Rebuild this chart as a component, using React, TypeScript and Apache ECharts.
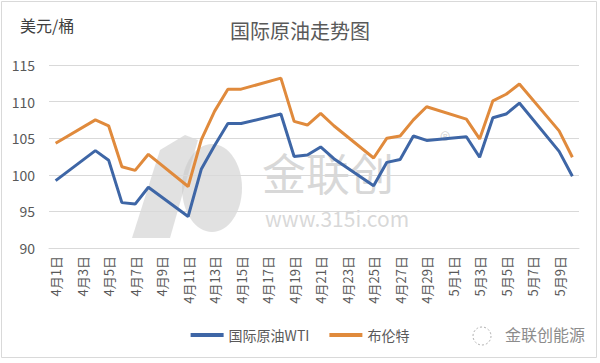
import React, { useEffect, useRef } from "react";
import * as echarts from "echarts";

const categories = [
  "4月1日","4月2日","4月3日","4月4日","4月5日","4月6日","4月7日","4月8日","4月9日","4月10日",
  "4月11日","4月12日","4月13日","4月14日","4月15日","4月16日","4月17日","4月18日","4月19日","4月20日",
  "4月21日","4月22日","4月23日","4月24日","4月25日","4月26日","4月27日","4月28日","4月29日","4月30日",
  "5月1日","5月2日","5月3日","5月4日","5月5日","5月6日","5月7日","5月8日","5月9日","5月10日",
];

const wti = [
  99.2, null, null, 103.3, 102.0, 96.2, 96.0, 98.3, null, null,
  94.3, 100.8, 104.0, 107.0, 107.0, null, null, 108.3, 102.5, 102.7,
  103.8, 102.2, null, null, 98.5, 101.7, 102.1, 105.3, 104.7, null,
  null, 105.2, 102.4, 107.8, 108.3, 109.8, null, null, 103.2, 99.8,
];

const brent = [
  104.3, null, null, 107.5, 106.7, 101.1, 100.6, 102.8, null, null,
  98.4, 104.8, 108.7, 111.7, 111.7, null, null, 113.2, 107.3, 106.8,
  108.4, 106.7, null, null, 102.3, 105.0, 105.3, 107.5, 109.3, null,
  null, 107.6, 104.9, 110.1, 111.0, 112.4, null, null, 106.0, 102.4,
];

const seriesNames = ["国际原油WTI", "布伦特"];
const FONT = "'Noto Sans CJK SC', 'Noto Sans', sans-serif";

export default function App() {
  const ref = useRef<HTMLDivElement>(null);
  useEffect(() => {
    const chart = echarts.init(ref.current!, null, { renderer: "svg" });
    chart.setOption({
      animation: false,
      backgroundColor: "#ffffff",
      textStyle: { fontFamily: FONT },
      title: {
        text: "国际原油走势图",
        left: "center",
        top: 15,
        textStyle: { fontSize: 20, fontWeight: "normal", color: "#595959", fontFamily: FONT },
      },
      legend: {
        bottom: 16,
        left: "center",
        itemWidth: 33,
        itemHeight: 4,
        itemGap: 20,
        icon: "rect",
        textStyle: { fontSize: 14, color: "#595959", fontFamily: FONT },
        data: seriesNames,
      },
      grid: { left: 49, right: 21, top: 65, bottom: 115, containLabel: false },
      xAxis: {
        type: "category",
        data: categories,
        boundaryGap: true,
        axisLine: { lineStyle: { color: "#d9d9d9" } },
        axisTick: { interval: 1, length: 5, lineStyle: { color: "#d9d9d9" } },
        axisLabel: { interval: 1, rotate: 90, fontSize: 13, color: "#595959", margin: 8, fontFamily: FONT },
      },
      yAxis: {
        type: "value",
        min: 90,
        max: 115,
        interval: 5,
        axisLine: { show: false },
        axisTick: { show: false },
        axisLabel: { fontSize: 14, color: "#595959", margin: 14, fontFamily: FONT },
        splitLine: { lineStyle: { color: "#d9d9d9" } },
      },
      graphic: [
        {
          type: "rect",
          shape: { x: 1.5, y: 1.5, width: 595, height: 356 },
          style: { fill: "none", stroke: "#d9d9d9", lineWidth: 1 },
          z: 0,
        },
        {
          type: "text",
          left: 20,
          top: 17,
          style: { text: "美元/桶", fontSize: 16, fill: "#404040", fontFamily: FONT },
        },
        {
          type: "polygon",
          shape: { points: [[132, 238], [160, 150], [185, 135], [198, 140], [170, 238]] },
          style: { fill: "rgba(200,200,200,0.55)" },
          z: 0,
        },
        {
          type: "ellipse",
          shape: { cx: 212, cy: 188, rx: 30, ry: 44 },
          style: { fill: "rgba(200,200,200,0.55)" },
          z: 0,
        },
        {
          type: "text",
          left: 262,
          top: 150,
          style: { text: "金联创", fontSize: 44, lineHeight: 44, fill: "rgba(190,190,190,0.6)", fontFamily: FONT },
          z: 0,
        },
        {
          type: "text",
          left: 265,
          top: 207,
          style: { text: "www.315i.com", fontSize: 21, lineHeight: 21, fill: "rgba(190,190,190,0.6)", fontFamily: FONT },
          z: 0,
        },
        {
          type: "text",
          left: 440,
          top: 128,
          style: { text: "®", fontSize: 22, fill: "rgba(190,190,190,0.6)", fontFamily: FONT },
          z: 0,
        },
        {
          type: "circle",
          shape: { cx: 482, cy: 336, r: 9 },
          style: { fill: "none", stroke: "#b0b0b0", lineWidth: 1, lineDash: [2, 2] },
        },
        {
          type: "text",
          left: 505,
          top: 326,
          style: { text: "金联创能源", fontSize: 16, fill: "#8c8c8c", fontFamily: FONT },
        },
      ],
      series: [
        {
          name: seriesNames[0],
          type: "line",
          data: wti,
          connectNulls: true,
          showSymbol: false,
          symbol: "none",
          lineStyle: { color: "#3e66a6", width: 3 },
          itemStyle: { color: "#3e66a6" },
          z: 3,
        },
        {
          name: seriesNames[1],
          type: "line",
          data: brent,
          connectNulls: true,
          showSymbol: false,
          symbol: "none",
          lineStyle: { color: "#e08a3c", width: 3 },
          itemStyle: { color: "#e08a3c" },
          z: 3,
        },
      ],
    });
    return () => chart.dispose();
  }, []);
  return <div ref={ref} style={{ width: 600, height: 363, position: "absolute", left: 0, top: 0 }} />;
}
